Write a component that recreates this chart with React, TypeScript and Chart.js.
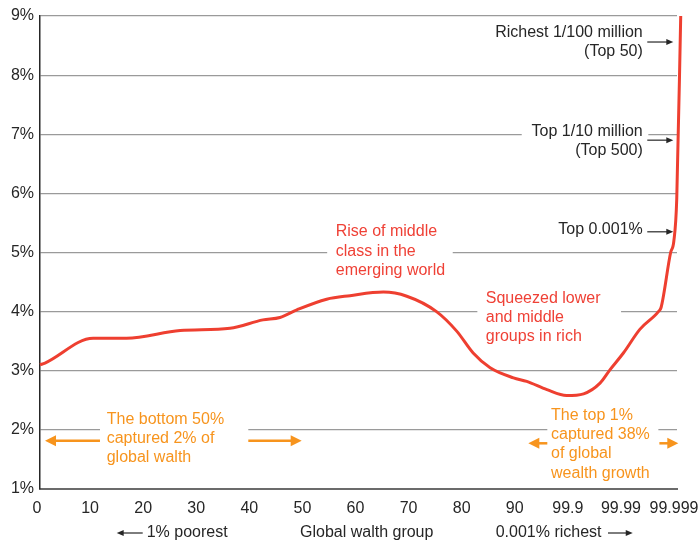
import { useEffect, useRef } from 'react';
import { Chart, registerables } from 'chart.js';

Chart.register(...registerables);

// ---- data ----
const xTickLabels = ['0', '10', '20', '30', '40', '50', '60', '70', '80', '90', '99.9', '99.99', '99.999'];
const groupPos = [0, 0.094, 1.0, 1.63, 2.64, 3.58, 4.2, 4.52, 4.84, 5.4, 5.84, 6.47, 6.91, 7.47, 7.85, 8.16, 8.48, 8.92, 9.17, 9.55, 9.92, 10.24, 10.55, 10.74, 10.99, 11.3, 11.65, 11.7, 11.88, 11.94, 11.995, 12.07];
const wealthShare = [3.1, 3.13, 3.55, 3.55, 3.68, 3.72, 3.86, 3.9, 4.03, 4.21, 4.27, 4.33, 4.26, 4.0, 3.67, 3.3, 3.05, 2.88, 2.82, 2.68, 2.58, 2.61, 2.79, 3.02, 3.3, 3.7, 4.0, 4.07, 5.0, 5.19, 5.9, 9.0];
const yMin = 1;
const yMax = 9;

const FONT = '"Liberation Sans", Arial, Helvetica, sans-serif';
const DARK = '#262626';
const RED = '#EF4136';
const ORANGE = '#F7941D';
const LINE = '#EE3F30';
const GRID = '#9a9a9a';

type Pt = { x: number; y: number };

function arrow(ctx: CanvasRenderingContext2D, x1: number, x2: number, y: number, color: string, lw: number, hl: number, hw: number) {
  const dir = Math.sign(x2 - x1);
  ctx.strokeStyle = color;
  ctx.fillStyle = color;
  ctx.lineWidth = lw;
  ctx.beginPath();
  ctx.moveTo(x1, y);
  ctx.lineTo(x2 - dir * hl * 0.8, y);
  ctx.stroke();
  ctx.beginPath();
  ctx.moveTo(x2, y);
  ctx.lineTo(x2 - dir * hl, y - hw / 2);
  ctx.lineTo(x2 - dir * hl, y + hw / 2);
  ctx.closePath();
  ctx.fill();
}

const annotate = {
  id: 'annotate',
  beforeDatasetsDraw(chart: any) {
    const { ctx, scales, chartArea } = chart;
    const X = (v: number) => scales.x.getPixelForValue(v);
    const Y = (v: number) => scales.y.getPixelForValue(v);
    ctx.save();
    // breaks in grid lines behind text blocks
    ctx.fillStyle = '#fff';
    const breaks = [
      { from: 9.075, to: 11.46, at: 7 },
      { from: 5.41, to: 7.775, at: 5 },
      { from: 8.239, to: 10.946, at: 4 },
      { from: 1.13, to: 3.924, at: 2 },
      { from: 9.557, to: 11.649, at: 2 },
    ];
    for (const b of breaks) ctx.fillRect(X(b.from), Y(b.at) - 3, X(b.to) - X(b.from), 6);

    ctx.font = '16px ' + FONT;
    ctx.textBaseline = 'middle';

    // dark right-aligned labels with arrows
    ctx.fillStyle = DARK;
    ctx.textAlign = 'right';
    const rx = X(11.355);
    const darkText: [string, number][] = [
      ['Richest 1/100 million', 8.724],
      ['(Top 50)', 8.396],
      ['Top 1/10 million', 7.05],
      ['(Top 500)', 6.72],
      ['Top 0.001%', 5.38],
    ];
    for (const [t, v] of darkText) ctx.fillText(t, rx, Y(v));
    for (const v of [8.56, 6.9, 5.35]) arrow(ctx, X(11.44), X(11.93), Y(v), DARK, 1.2, 7, 6);

    // red notes
    ctx.textAlign = 'left';
    ctx.fillStyle = RED;
    const redText: [string, number, number][] = [
      ['Rise of middle', 5.571, 5.347],
      ['class in the', 5.571, 5.014],
      ['emerging world', 5.571, 4.692],
      ['Squeezed lower', 8.397, 4.214],
      ['and middle', 8.397, 3.897],
      ['groups in rich', 8.397, 3.576],
    ];
    for (const [t, xv, yv] of redText) ctx.fillText(t, X(xv), Y(yv));

    // orange notes
    ctx.fillStyle = ORANGE;
    const orText: [string, number, number][] = [
      ['The bottom 50%', 1.257, 2.167],
      ['captured 2% of', 1.257, 1.846],
      ['global walth', 1.257, 1.529],
      ['The top 1%', 9.627, 2.24],
      ['captured 38%', 9.627, 1.913],
      ['of global', 9.627, 1.592],
      ['wealth growth', 9.627, 1.265],
    ];
    for (const [t, xv, yv] of orText) ctx.fillText(t, X(xv), Y(yv));
    arrow(ctx, X(1.13), X(0.094), Y(1.817), ORANGE, 2.5, 11, 11);
    arrow(ctx, X(3.924), X(4.93), Y(1.817), ORANGE, 2.5, 11, 11);
    arrow(ctx, X(9.557), X(9.199), Y(1.773), ORANGE, 2.5, 11, 11);
    arrow(ctx, X(11.668), X(12.025), Y(1.773), ORANGE, 2.5, 11, 11);

    // bottom caption row
    const by = chartArea.bottom + 44;
    ctx.fillStyle = DARK;
    ctx.fillText('1% poorest', X(2.01), by);
    ctx.fillText('Global walth group', X(4.898), by);
    ctx.fillText('0.001% richest', X(8.585), by);
    arrow(ctx, X(1.935), X(1.445), by, DARK, 1.2, 7, 6);
    arrow(ctx, X(10.7), X(11.166), by, DARK, 1.2, 7, 6);
    ctx.restore();
  },
};

export default function App() {
  const ref = useRef<HTMLCanvasElement | null>(null);
  useEffect(() => {
    document.body.style.margin = '0';
    const canvas = ref.current;
    if (!canvas) return;
    const pts: Pt[] = groupPos.map((x, i) => ({ x, y: wealthShare[i] }));
    const chart = new Chart(canvas, {
      type: 'line',
      data: {
        datasets: [
          {
            data: pts as any,
            borderColor: LINE,
            borderWidth: 3,
            pointRadius: 0,
            cubicInterpolationMode: 'monotone',
            clip: false as any,
            fill: false,
          },
        ],
      },
      plugins: [annotate],
      options: {
        responsive: false,
        animation: false,
        devicePixelRatio: 1,
        layout: { padding: { top: 16, right: 21, left: 0, bottom: 0 } },
        plugins: { legend: { display: false }, tooltip: { enabled: false } },
        scales: {
          x: {
            type: 'linear',
            min: 0,
            max: 12,
            grid: { display: false, drawTicks: false },
            border: { display: true, color: '#6b6b6b', width: 2 },
            ticks: {
              stepSize: 1,
              autoSkip: false,
              maxRotation: 0,
              padding: 10,
              labelOffset: -3,
              color: DARK,
              font: { family: FONT, size: 16 },
              callback: (v: any) => xTickLabels[Math.round(Number(v))] ?? '',
            },
            afterFit: (s: any) => {
              s.height = 51;
              s.paddingLeft = 0;
              s.paddingRight = 0;
            },
          },
          y: {
            type: 'linear',
            min: yMin,
            max: yMax,
            grid: {
              drawTicks: false,
              lineWidth: 1.2,
              color: (c: any) => (c.tick && c.tick.value === yMin ? 'rgba(0,0,0,0)' : GRID),
            },
            border: { display: true, color: DARK, width: 1.5 },
            ticks: {
              stepSize: 1,
              padding: 6,
              color: DARK,
              font: { family: FONT, size: 16 },
              callback: (v: any) => v + '%',
            },
            afterFit: (s: any) => {
              s.width = 40;
              s.paddingTop = 0;
              s.paddingBottom = 0;
            },
          },
        },
      },
    });
    return () => chart.destroy();
  }, []);
  return (
    <div style={{ width: 698, height: 540, background: '#fff' }}>
      <canvas ref={ref} width={698} height={540} />
    </div>
  );
}
